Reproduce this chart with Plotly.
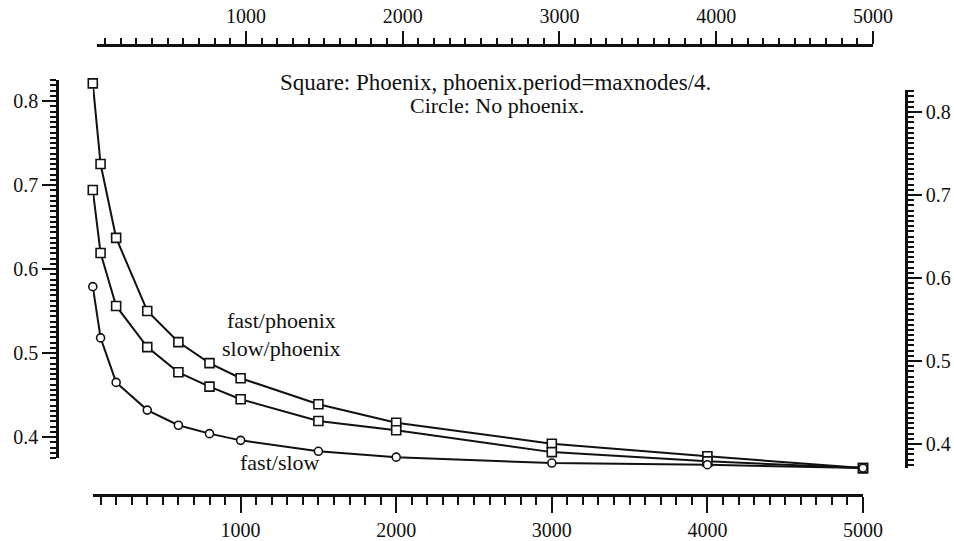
import plotly.graph_objects as go

# ---- data ----
maxnodes = [50, 100, 200, 400, 600, 800, 1000, 1500, 2000, 3000, 4000, 5000]
fast_phoenix = [0.821, 0.725, 0.637, 0.550, 0.513, 0.488, 0.470, 0.439, 0.417, 0.392, 0.377, 0.363]
slow_phoenix = [0.694, 0.619, 0.556, 0.507, 0.477, 0.460, 0.445, 0.419, 0.408, 0.382, 0.371, 0.363]
fast_slow = [0.579, 0.518, 0.465, 0.432, 0.414, 0.404, 0.396, 0.383, 0.376, 0.369, 0.367, 0.363]

x_major = [1000, 2000, 3000, 4000, 5000]
x_medium = [500, 1500, 2500, 3500, 4500]
y_major = [0.4, 0.5, 0.6, 0.7, 0.8]
y_medium = [0.45, 0.55, 0.65, 0.75]

INK = "#111111"
FONT = "Liberation Serif"
W, H = 954, 541

def px_x(p):
    return p / W

def px_y(p):
    return 1 - p / H

# left scale: 0.4 at 437 px, 840 px per unit
Y_PX_PER_UNIT = 840.0
Y_04_PX = 437.0

def val_at(py):
    return 0.4 + (Y_04_PX - py) / Y_PX_PER_UNIT

fig = go.Figure()

line_style = dict(color=INK, width=2)
sq_marker = dict(symbol="square", size=9, color="white", line=dict(color=INK, width=1.6))
ci_marker = dict(symbol="circle", size=8, color="white", line=dict(color=INK, width=1.6))

for ys, mk, nm in [(fast_phoenix, sq_marker, "fast/phoenix"),
                   (slow_phoenix, sq_marker, "slow/phoenix"),
                   (fast_slow, ci_marker, "fast/slow")]:
    fig.add_trace(go.Scatter(x=maxnodes, y=ys, mode="lines+markers", line=line_style,
                             marker=mk, name=nm, cliponaxis=False, yaxis="y5"))

# empty traces to make sure the extra axes exist
fig.add_trace(go.Scatter(x=[], y=[], xaxis="x2", yaxis="y", showlegend=False))
fig.add_trace(go.Scatter(x=[], y=[], xaxis="x", yaxis="y2", showlegend=False))
fig.add_trace(go.Scatter(x=[], y=[], xaxis="x", yaxis="y", showlegend=False))

tickfont = dict(family=FONT, size=20, color=INK)
common = dict(showgrid=False, zeroline=False, linecolor=INK, linewidth=2.5, tickcolor=INK,
              tickwidth=2, automargin=False)

x_range = [50, 5000]
y_range = [val_at(458), val_at(80)]
y5_range = [val_at(490), val_at(60)]
y2_range = [0.3711, 0.8265]
minor_style = dict(ticks="outside", tickcolor=INK, tickwidth=1.6)

fig.update_layout(
    width=W, height=H,
    margin=dict(l=0, r=0, t=0, b=0, autoexpand=False),
    paper_bgcolor="white", plot_bgcolor="rgba(0,0,0,0)",
    showlegend=False,
    xaxis=dict(**common, domain=[px_x(92.8), px_x(863)], range=x_range, anchor="free", position=px_y(495),
               side="bottom", showline=True, ticks="outside", ticklen=16, tickvals=x_major,
               ticktext=[str(v) for v in x_major], tickfont=tickfont,
               minor=dict(dtick=100, tick0=0, ticklen=8, **minor_style)),
    xaxis3=dict(**common, overlaying="x", range=x_range, anchor="free", position=px_y(495), side="bottom",
                showline=False, ticks="outside", ticklen=12, tickvals=x_medium, showticklabels=False),
    xaxis2=dict(**common, domain=[px_x(97), px_x(873)], range=x_range, anchor="free", position=px_y(45),
                side="top", showline=True, ticks="outside", ticklen=13, tickvals=x_major,
                ticktext=[str(v) for v in x_major], tickfont=tickfont,
                minor=dict(dtick=100, tick0=0, ticklen=6, **minor_style)),
    xaxis4=dict(**common, overlaying="x2", range=x_range, anchor="free", position=px_y(45), side="top",
                showline=False, ticks="outside", ticklen=10, tickvals=x_medium, showticklabels=False),
    yaxis=dict(**common, domain=[px_y(458), px_y(80)], range=y_range, anchor="free", position=px_x(57),
               side="left", showline=True, ticks="outside", ticklen=14, tickvals=y_major,
               ticktext=["0.4", "0.5", "0.6", "0.7", "0.8"], tickfont=tickfont,
               minor=dict(dtick=0.00625, tick0=0.4, ticklen=6, **minor_style)),
    yaxis3=dict(**common, overlaying="y", range=y_range, anchor="free", position=px_x(57), side="left",
                showline=False, ticks="outside", ticklen=10, tickvals=y_medium, showticklabels=False),
    # hidden axis carrying the data, same scale as the left axis but taller so no point is hidden
    yaxis5=dict(domain=[px_y(490), px_y(60)], range=y5_range, anchor="x", visible=False,
                showgrid=False, zeroline=False, automargin=False),
    yaxis2=dict(**common, domain=[px_y(468), px_y(90)], range=y2_range, anchor="free", position=px_x(906),
                side="right", showline=True, ticks="outside", ticklen=14, tickvals=y_major,
                ticktext=["0.4", "0.5", "0.6", "0.7", "0.8"], tickfont=tickfont,
                minor=dict(dtick=0.00625, tick0=0.4, ticklen=6, **minor_style)),
    yaxis4=dict(**common, overlaying="y2", range=y2_range, anchor="free", position=px_x(906), side="right",
                showline=False, ticks="outside", ticklen=10, tickvals=y_medium, showticklabels=False),
)

annots = [
    ("Square: Phoenix, phoenix.period=maxnodes/4.", 495, 83, 23),
    ("Circle: No phoenix.", 497, 105, 22),
    ("fast/phoenix", 281, 320, 22),
    ("slow/phoenix", 281, 348, 22),
    ("fast/slow", 280, 462, 22),
]
for text, ax_px, ay_px, fs in annots:
    fig.add_annotation(text=text, x=px_x(ax_px), y=px_y(ay_px), xref="paper", yref="paper",
                       showarrow=False, font=dict(family=FONT, size=fs, color=INK),
                       xanchor="center", yanchor="middle")

fig.write_html("out.html", config={"displayModeBar": False},
               post_script="document.body.style.margin='0';document.body.style.overflow='hidden';")
